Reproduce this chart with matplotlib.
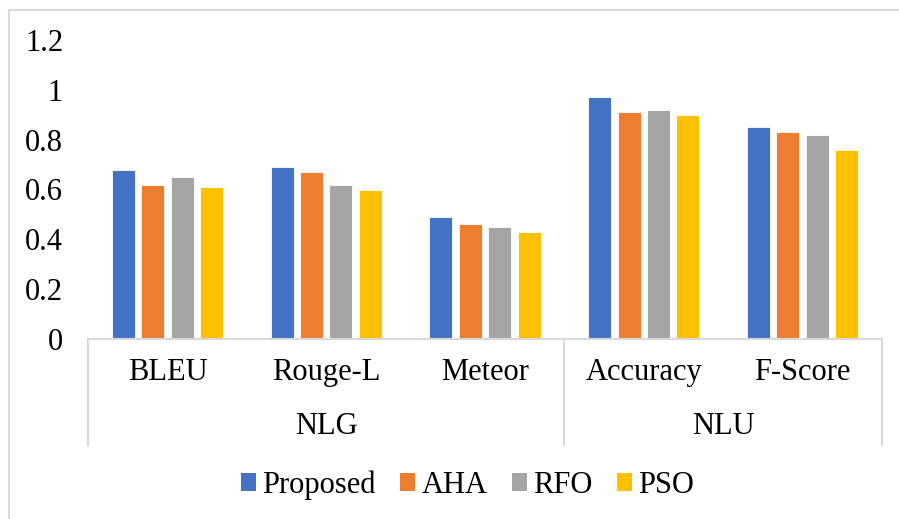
import numpy as np
import matplotlib.pyplot as plt
from matplotlib.patches import Patch
from matplotlib.lines import Line2D

plt.rcParams['font.family'] = ['Liberation Serif', 'DejaVu Serif']

# Данные графика
metrics = ["BLEU", "Rouge-L", "Meteor", "Accuracy", "F-Score"]
groups = ["NLG", "NLU"]
group_sizes = [3, 2]
methods = ["Proposed", "AHA", "RFO", "PSO"]
colors = ["#4472C4", "#ED7D31", "#A5A5A5", "#FFC000"]

proposed = [0.68, 0.69, 0.49, 0.97, 0.85]
aha = [0.62, 0.67, 0.46, 0.91, 0.83]
rfo = [0.65, 0.62, 0.45, 0.92, 0.82]
pso = [0.61, 0.60, 0.43, 0.90, 0.76]
values = [proposed, aha, rfo, pso]

yticks = [0, 0.2, 0.4, 0.6, 0.8, 1, 1.2]
ytick_labels = ["0", "0.2", "0.4", "0.6", "0.8", "1", "1.2"]

fs = 22
fig = plt.figure(figsize=(8.99, 5.19), dpi=100)
ax = fig.add_axes([88 / 899, 1 - 339 / 519, (882 - 88) / 899, (339 - 40) / 519])

x = np.arange(len(metrics))
bar_w = 0.145
step = 0.185
for i, (vals, col) in enumerate(zip(values, colors)):
    ax.bar(x + (i - 1.5) * step, vals, width=bar_w, color=col,
           edgecolor="white", linewidth=0.6, label=methods[i])

ax.set_xlim(-0.5, len(metrics) - 0.5)
ax.set_ylim(0, 1.2)
ax.set_yticks(yticks)
ax.set_yticklabels(ytick_labels, fontsize=fs)
ax.tick_params(axis="y", length=0, pad=18)
ax.set_xticks([])
for s in ["top", "right", "left"]:
    ax.spines[s].set_visible(False)
ax.spines["bottom"].set_color("#d9d9d9")
ax.spines["bottom"].set_linewidth(1.5)

# Двухуровневые подписи категорий
trans = ax.get_xaxis_transform()
for xi, name in zip(x, metrics):
    ax.text(xi, -0.113, name, transform=trans, ha="center", va="center", fontsize=fs)

div_bottom = -(445 - 339) / 299
start = 0
for g, n in zip(groups, group_sizes):
    ax.text(start + (n - 1) / 2, -0.294, g, transform=trans, ha="center", va="center", fontsize=fs)
    start += n
edges = np.concatenate([[0], np.cumsum(group_sizes)]) - 0.5
for e in edges:
    ax.add_line(Line2D([e, e], [0, div_bottom], transform=trans, color="#d9d9d9",
                       linewidth=1.5, clip_on=False))

# Легенда
handles = [Patch(facecolor=c, edgecolor="none") for c in colors]
fig.legend(handles, methods, loc="center", bbox_to_anchor=(0.52, 1 - 485 / 519), ncol=4,
           frameon=False, fontsize=fs, handlelength=0.5, handleheight=0.5,
           handletextpad=0.2, columnspacing=0.8)

# Рамка диаграммы
fig.add_artist(Line2D([9 / 899, 9 / 899], [0, 1 - 10 / 519], color="#d9d9d9", linewidth=1.5))
fig.add_artist(Line2D([9 / 899, 1], [1 - 10 / 519, 1 - 10 / 519], color="#d9d9d9", linewidth=1.5))

fig.savefig("out.png", dpi=100)
